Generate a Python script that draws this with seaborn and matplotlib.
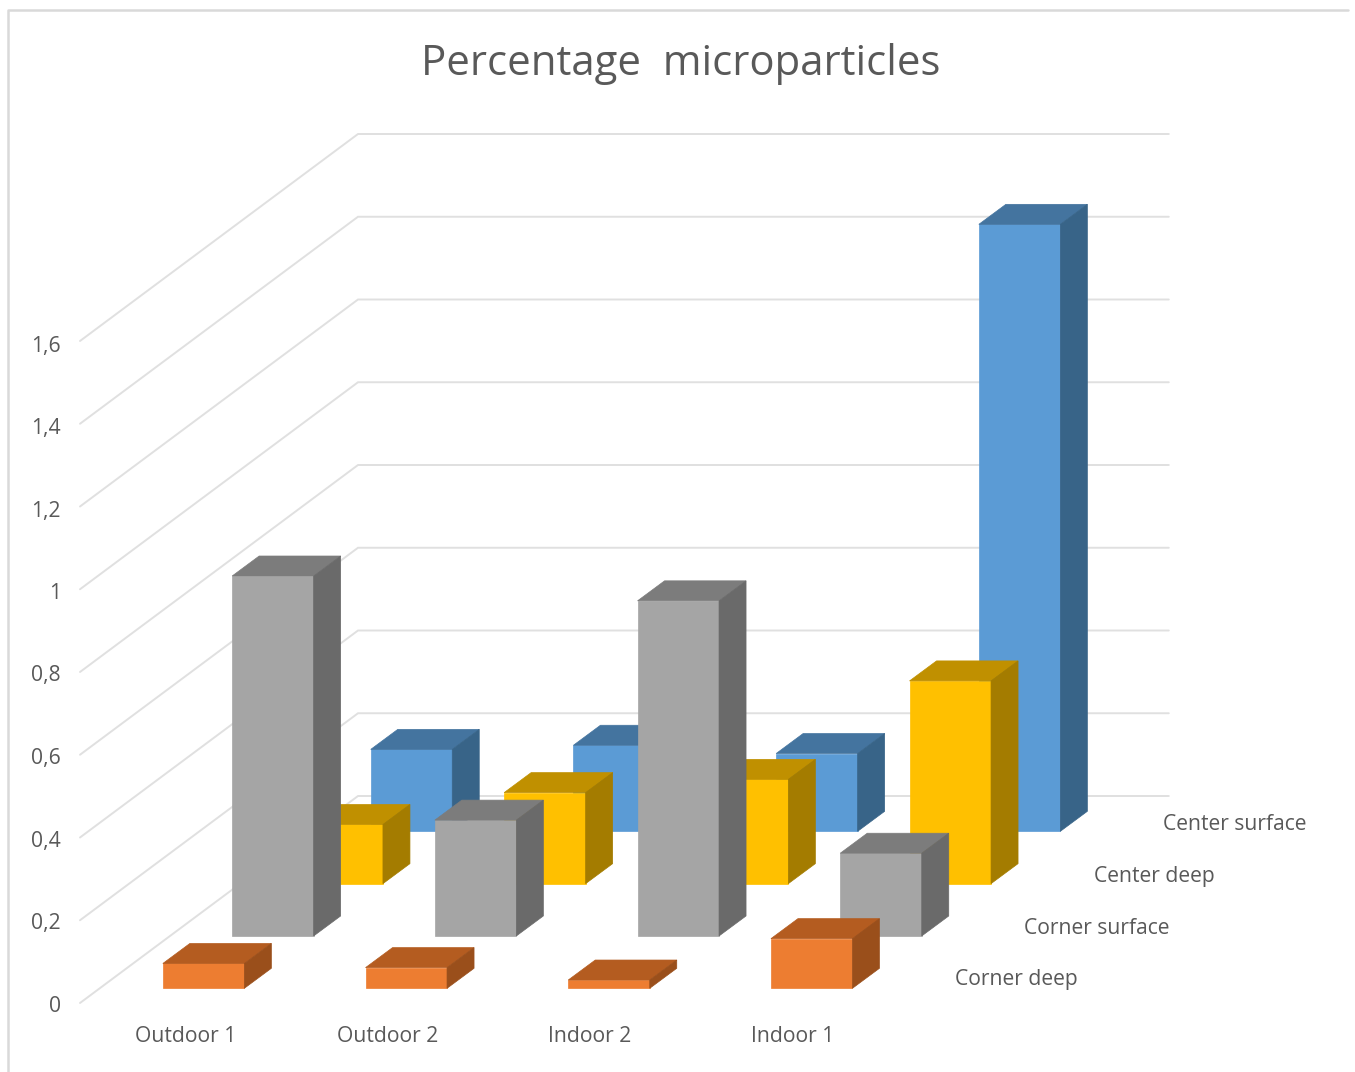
import matplotlib
matplotlib.use("Agg")
import matplotlib.pyplot as plt
from matplotlib.patches import Polygon
import pandas as pd
import seaborn as sns

# Series values, back row last
sites = ["Outdoor 1", "Outdoor 2", "Indoor 2", "Indoor 1"]
center_surface = [0.198, 0.208, 0.188, 1.467]
center_deep = [0.143, 0.22, 0.252, 0.49]
corner_surface = [0.87, 0.28, 0.81, 0.20]
corner_deep = [0.06, 0.05, 0.02, 0.12]
series_names = ["Corner deep", "Corner surface", "Center deep", "Center surface"]
axis_ticks = [0, 0.2, 0.4, 0.6, 0.8, 1.0, 1.2, 1.4, 1.6]
axis_labels = ["0", "0,2", "0,4", "0,6", "0,8", "1", "1,2", "1,4", "1,6"]

face_colors = ["#ED7D31", "#A5A5A5", "#FFC000", "#5B9BD5"]
top_colors = ["#B45C20", "#7C7C7C", "#C09000", "#44749F"]
side_colors = ["#9A4F1B", "#6A6A6A", "#A47C00", "#386488"]
GRID = "#E0E0E0"
TEXT = "#595959"

W, H = 1355, 1072
PX_PER_CAT = 202.7
PX_PER_VAL = 413.75
WALL_X = 80
WALL_Y = 1003

# Oblique projection: a full depth step moves a point up and to the right.
DEPTH_DX = 278 / PX_PER_CAT
DEPTH_DY = 207 / PX_PER_VAL
ROW_DX = 69.3 / PX_PER_CAT
ROW_DY = 52.33 / PX_PER_VAL
ROW_X0 = 18.7 / PX_PER_CAT
ROW_Y0 = 14.7 / PX_PER_VAL
BAR_DX = 27 / PX_PER_CAT
BAR_DY = 20 / PX_PER_VAL
BAR_WIDTH = 81.5 / PX_PER_CAT
CENTER0 = 0.5175

sns.set_theme(style="white")
plt.rcParams["font.family"] = ["Open Sans", "DejaVu Sans"]

fig = plt.figure(figsize=(W / 100, H / 100), dpi=100)
ax = fig.add_axes([0, 0, 1, 1])


def wall_point(cat, depth, value):
    return cat + depth * DEPTH_DX, value + depth * DEPTH_DY


# Back wall and side wall gridlines
for tick in axis_ticks:
    x0, y0 = wall_point(0, 0, tick)
    x1, y1 = wall_point(0, 1, tick)
    x2, y2 = wall_point(4, 1, tick)
    ax.plot([x0, x1, x2], [y0, y1, y2], color=GRID, lw=1.4, zorder=1,
            solid_joinstyle="miter")

rows = [corner_deep, corner_surface, center_deep, center_surface]
for r in range(3, -1, -1):
    dx = ROW_X0 + r * ROW_DX
    dy = ROW_Y0 + r * ROW_DY
    frame = pd.DataFrame({"pos": [CENTER0 + i + dx for i in range(4)],
                          "value": rows[r]})
    before = len(ax.patches)
    base_z = 10 + (3 - r) * 3
    sns.barplot(data=frame, x="pos", y="value", native_scale=True,
                width=BAR_WIDTH, color=face_colors[r], saturation=1,
                errorbar=None, ax=ax, zorder=base_z,
                edgecolor=face_colors[r], linewidth=0.5)
    for bar in ax.patches[before:]:
        bar.set_y(dy)
        left, w, h = bar.get_x(), bar.get_width(), bar.get_height()
        right, top = left + w, dy + h
        ax.add_patch(Polygon(
            [(left, top), (right, top), (right + BAR_DX, top + BAR_DY),
             (left + BAR_DX, top + BAR_DY)],
            facecolor=top_colors[r], edgecolor=top_colors[r], lw=0.5,
            zorder=base_z + 1))
        ax.add_patch(Polygon(
            [(right, dy), (right + BAR_DX, dy + BAR_DY),
             (right + BAR_DX, top + BAR_DY), (right, top)],
            facecolor=side_colors[r], edgecolor=side_colors[r], lw=0.5,
            zorder=base_z + 1))

ax.set_xlim(-WALL_X / PX_PER_CAT, (W - WALL_X) / PX_PER_CAT)
ax.set_ylim((WALL_Y - H) / PX_PER_VAL, WALL_Y / PX_PER_VAL)
ax.axis("off")

# Value axis labels
for tick, label in zip(axis_ticks, axis_labels):
    ax.text(-19 / PX_PER_CAT, tick * 412.5 / PX_PER_VAL - 3 / PX_PER_VAL, label,
            ha="right", va="center", fontsize=15.2, color=TEXT)

# Site labels below the front row
for i, site in enumerate(sites):
    ax.text((105.5 + i * 202.3) / PX_PER_CAT, -34 / PX_PER_VAL, site,
            ha="center", va="center", fontsize=15.2, color=TEXT)

# Row labels to the right of the floor
for r, name in enumerate(series_names):
    label_x = (875 + r * 69.3) / PX_PER_CAT
    label_y = (23 + r * 51.9) / PX_PER_VAL
    ax.text(label_x, label_y, name, ha="left", va="center",
            fontsize=15.2, color=TEXT, zorder=30)

# Title
ax.text((681 - WALL_X) / PX_PER_CAT, (WALL_Y - 64) / PX_PER_VAL,
        "Percentage  microparticles", ha="center", va="center",
        fontsize=30.2, color=TEXT)

# Chart frame along the left and top edges
fig.add_artist(plt.Line2D([8 / W, 8 / W, 1348 / W],
                          [0, 1 - 10 / H, 1 - 10 / H],
                          transform=fig.transFigure, color="#D9D9D9", lw=1.8))

fig.savefig("out.png", dpi=100)
